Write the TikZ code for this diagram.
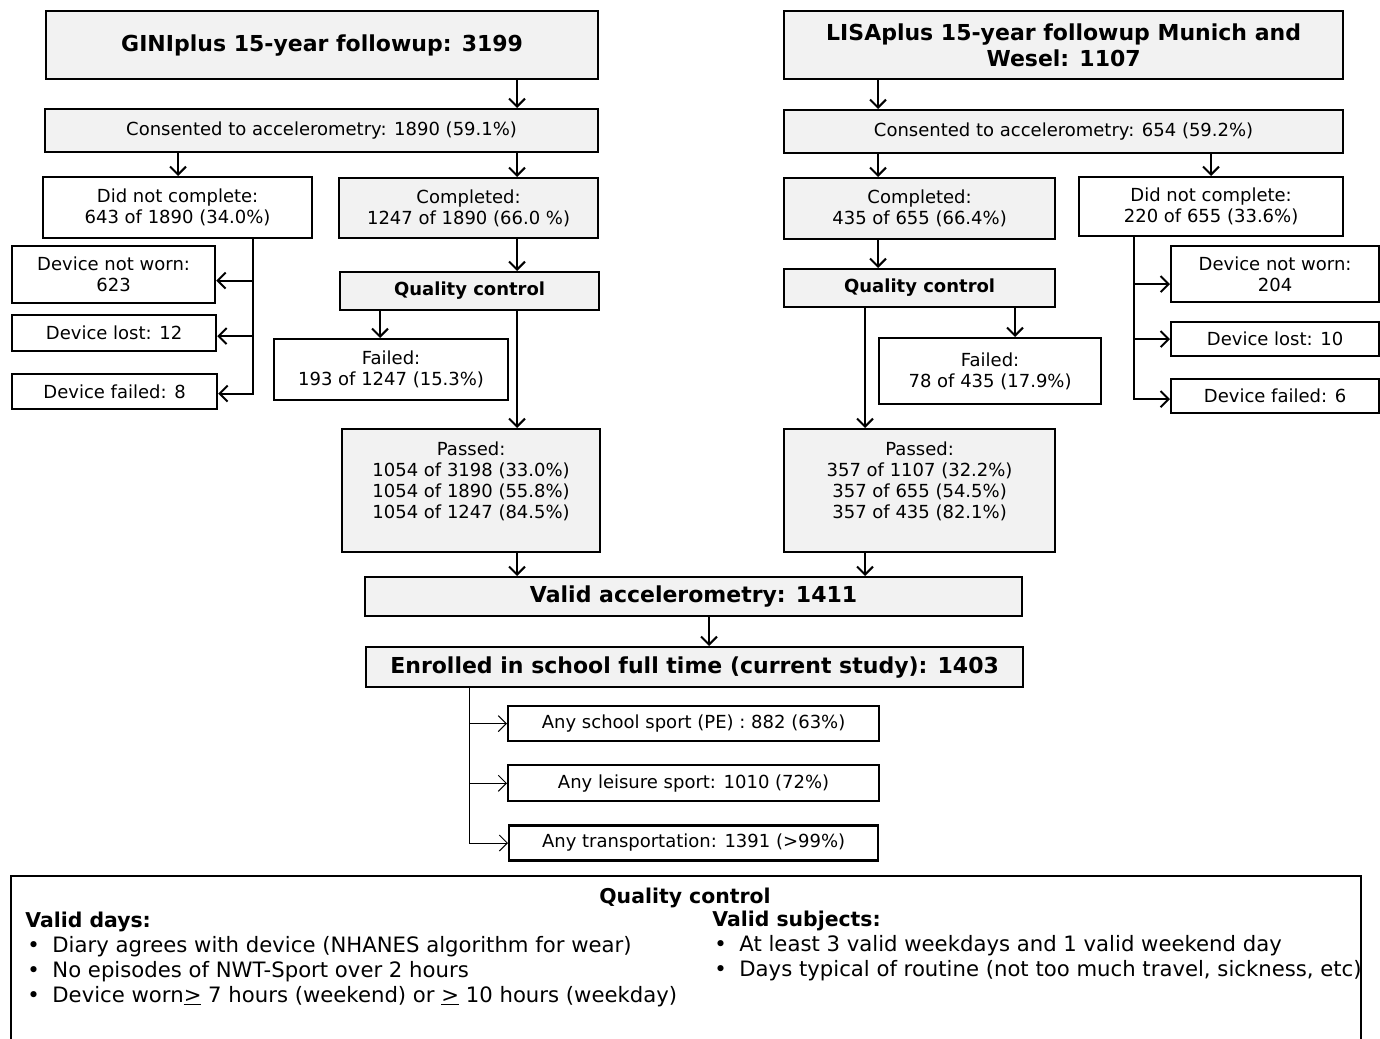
\documentclass[tikz,border=0pt]{standalone}
\usepackage{fontspec}
\setmainfont{DejaVu Sans}
\usepackage{xcolor}
\usepackage{tikz}
\usetikzlibrary{arrows.meta,positioning}

\definecolor{boxgrey}{RGB}{242,242,242}

\begin{document}
\begin{tikzpicture}[x=0.5pt,y=-0.5pt,
  >={Straight Barb[length=4pt,width=8pt]}
]

\tikzstyle{box}=[draw,rectangle,line width=1.1pt,anchor=north west,align=center,inner sep=0pt,font=\fontsize{9}{10.6}\selectfont]
\tikzstyle{grey box}=[box,fill=boxgrey]
\tikzstyle{title}=[font=\bfseries\fontsize{11}{13}\selectfont]
\tikzstyle{qc}=[font=\bfseries\fontsize{9}{10.6}\selectfont]
\tikzstyle{legend}=[anchor=base west,inner sep=0pt,font=\fontsize{10.6}{12.5}\selectfont]
\tikzstyle{legend head}=[legend,font=\bfseries\fontsize{10.2}{12.5}\selectfont]
\tikzset{boxsize/.style 2 args={minimum width=#1*0.5pt,minimum height=#2*0.5pt}}
\tikzset{arr/.style={->,line width=1pt},thin arr/.style={->,line width=0.5pt}}

\useasboundingbox (0,0) rectangle (1380,1038);

% GINIplus side
\node[grey box,title,boxsize={552}{68}] (gini) at (45,10) {GINIplus 15-year followup: 3199};
\node[grey box,boxsize={553}{43}] (consL) at (44,108) {Consented to accelerometry: 1890 (59.1\%)};
\node[box,boxsize={269}{61}] (dncL) at (42,176) {Did not complete:\\643 of 1890 (34.0\%)};
\node[grey box,boxsize={259}{60}] (compL) at (338,177) {Completed:\\1247 of 1890 (66.0 \%)};
\node[box,boxsize={203}{57}] (dnwL) at (11,245) {Device not worn:\\623};
\node[box,boxsize={204}{36}] (lostL) at (11,314) {Device lost: 12};
\node[box,boxsize={205}{35}] (brokeL) at (11,373) {Device failed: 8};
\node[grey box,qc,boxsize={259}{38}] (qcL) at (339,271) {Quality control};
\node[box,boxsize={234}{61}] (failL) at (273,338) {Failed:\\193 of 1247 (15.3\%)};
\node[grey box,boxsize={258}{123}] (passL) at (341,428) {Passed:\\1054 of 3198 (33.0\%)\\1054 of 1890 (55.8\%)\\1054 of 1247 (84.5\%)\\ \mbox{}};

% LISAplus side
\node[grey box,title,boxsize={559}{68}] (lisa) at (783,10) {LISAplus 15-year followup Munich and\\Wesel: 1107};
\node[grey box,boxsize={559}{43}] (consR) at (783,109) {Consented to accelerometry: 654 (59.2\%)};
\node[grey box,boxsize={271}{61}] (compR) at (783,177) {Completed:\\435 of 655 (66.4\%)};
\node[box,boxsize={264}{59}] (dncR) at (1078,176) {Did not complete:\\220 of 655 (33.6\%)};
\node[box,boxsize={208}{56}] (dnwR) at (1170,245) {Device not worn:\\204};
\node[box,boxsize={208}{34}] (lostR) at (1170,321) {Device lost: 10};
\node[box,boxsize={208}{34}] (brokeR) at (1170,378) {Device failed: 6};
\node[grey box,qc,boxsize={271}{38}] (qcR) at (783,268) {Quality control};
\node[box,boxsize={222}{66}] (failR) at (878,337) {Failed:\\78 of 435 (17.9\%)};
\node[grey box,boxsize={271}{123}] (passR) at (783,428) {Passed:\\357 of 1107 (32.2\%)\\357 of 655 (54.5\%)\\357 of 435 (82.1\%)\\ \mbox{}};

% pooled
\node[grey box,title,boxsize={657}{39}] (valid) at (364,576) {Valid accelerometry: 1411};
\node[grey box,title,boxsize={657}{40}] (enrol) at (365,646) {Enrolled in school full time (current study): 1403};
\node[box,boxsize={371}{35}] (school) at (507,705) {Any school sport (PE) : 882 (63\%)};
\node[box,boxsize={371}{36},below=11pt of school] (leisure) {Any leisure sport: 1010 (72\%)};
\node[box,boxsize={369}{35},below=11pt of leisure] (transp) {Any transportation: 1391 (>99\%)};

% columns of the connectors
\coordinate (colA) at (517,0);
\coordinate (colB) at (178,0);
\coordinate (colC) at (253,0);
\coordinate (colD) at (380,0);
\coordinate (colE) at (878,0);
\coordinate (colF) at (1211,0);
\coordinate (colG) at (1134,0);
\coordinate (colH) at (1015,0);
\coordinate (colI) at (865,0);
\coordinate (colJ) at (709,0);
\coordinate (colK) at (469,0);

\path[arr]
  (gini.south -| colA) edge (consL.north -| colA)
  (consL.south -| colB) edge (dncL.north -| colB)
  (consL.south -| colA) edge (compL.north -| colA)
  (compL.south -| colA) edge (qcL.north -| colA)
  (qcL.south -| colD) edge (failL.north -| colD)
  (qcL.south -| colA) edge (passL.north -| colA)
  (passL.south -| colA) edge (valid.north -| colA);
\draw[arr] (dncL.south -| colC) |- ([yshift=-3pt]dnwL.east);
\draw[arr] (dncL.south -| colC) |- ([yshift=-1.5pt]lostL.east);
\draw[arr] (dncL.south -| colC) |- ([yshift=-1pt]brokeL.east);

\path[arr]
  (lisa.south -| colE) edge (consR.north -| colE)
  (consR.south -| colE) edge (compR.north -| colE)
  (consR.south -| colF) edge (dncR.north -| colF)
  (compR.south -| colE) edge (qcR.north -| colE)
  (qcR.south -| colH) edge (failR.north -| colH)
  (qcR.south -| colI) edge (passR.north -| colI)
  (passR.south -| colI) edge (valid.north -| colI)
  (valid.south -| colJ) edge (enrol.north -| colJ);
\draw[arr] (dncR.south -| colG) |- ([yshift=-5pt]dnwR.west);
\draw[arr] (dncR.south -| colG) |- (lostR.west);
\draw[arr] (dncR.south -| colG) |- ([yshift=-1.5pt]brokeR.west);

\draw[thin arr] (enrol.south -| colK) |- (school.west);
\draw[thin arr] (enrol.south -| colK) |- (leisure.west);
\draw[thin arr] (enrol.south -| colK) |- (transp.west);

% legend
\node[box,boxsize={1350}{180}] (legendbox) at (10,875) {};
\node[anchor=base,inner sep=0pt,font=\bfseries\fontsize{10.2}{12.5}\selectfont] (qctitle) at (685,903) {Quality control};
\node[legend head] (days) at (25,927) {Valid days:};
\foreach \t [count=\i] in {
  {Diary agrees with device (NHANES algorithm for wear)},
  {No episodes of NWT-Sport over 2 hours},
  {Device worn\underline{>} 7 hours (weekend) or \underline{>} 10 hours (weekday)}}
  \node[legend] (day\i) at (27,{927+25*\i}) {\makebox[12.5pt][l]{\textbullet}\t};
\node[legend head] (subjects) at (712,926) {Valid subjects:};
\foreach \t [count=\i] in {
  {At least 3 valid weekdays and 1 valid weekend day},
  {Days typical of routine (not too much travel, sickness, etc)}}
  \node[legend] (subj\i) at (714,{926+25*\i}) {\makebox[12.5pt][l]{\textbullet}\t};

\end{tikzpicture}
\end{document}
